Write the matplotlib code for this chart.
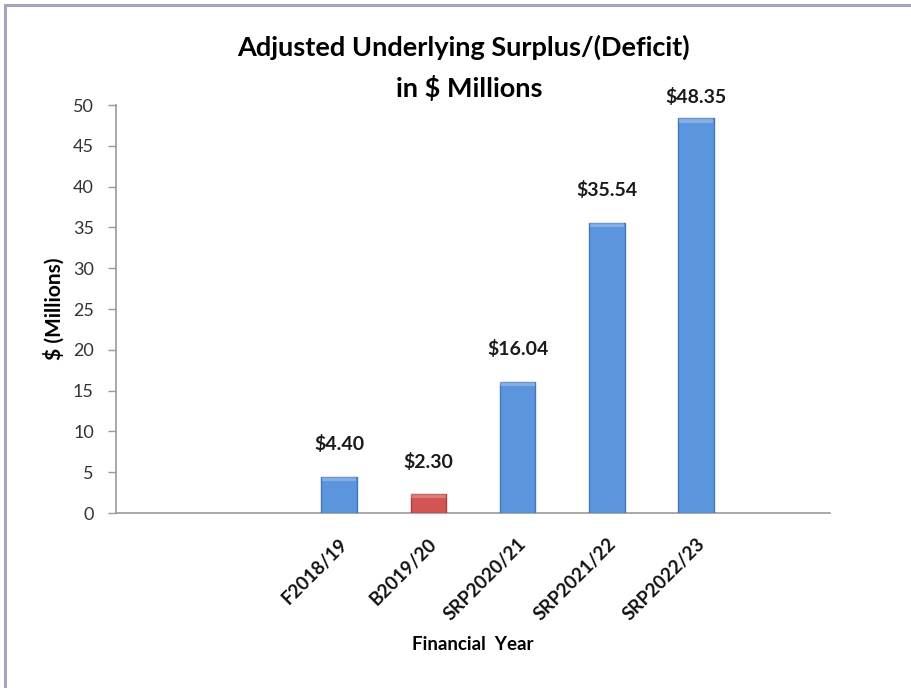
import numpy as np
import matplotlib.pyplot as plt
from matplotlib.lines import Line2D

# data
years = ["F2018/19", "B2019/20", "SRP2020/21", "SRP2021/22", "SRP2022/23"]
surplus = [4.40, 2.30, 16.04, 35.54, 48.35]
bar_colors = ["#5A95DD", "#D35450", "#5A95DD", "#5A95DD", "#5A95DD"]
edge_colors = ["#4677B8", "#A9403D", "#4677B8", "#4677B8", "#4677B8"]
yticks = np.arange(0, 51, 5)

plt.rcParams['font.family'] = ['Lato', 'DejaVu Sans']

fig = plt.figure(figsize=(9.11, 6.88), dpi=100)

# outer chart frame: only top and left edges are inside the picture
frame = dict(transform=fig.transFigure, color="#A8A4BC", linewidth=2.2)
fig.lines.append(Line2D([5 / 911, 1.0], [1 - 5 / 688, 1 - 5 / 688], **frame))
fig.lines.append(Line2D([5 / 911, 5 / 911], [0.0, 1 - 5 / 688], **frame))

ax = fig.add_axes([116 / 911, 1 - 513 / 688, 714 / 911, 408 / 688])

# two empty category slots before the bars and one after
x = np.arange(len(years)) + 2
bars = ax.bar(x, surplus, width=0.4, color=bar_colors,
              edgecolor=edge_colors, linewidth=1.0, zorder=3)

# light bevel along the top of each bar
for b in bars:
    ax.bar(b.get_x() + b.get_width() / 2, 0.5, bottom=b.get_height() - 0.5,
           width=b.get_width() * 0.96, color="white", alpha=0.25,
           linewidth=0, zorder=4)

for xi, v in zip(x, surplus):
    ax.text(xi, min(v + 4.0, 51.0), f"${v:.2f}", ha="center", va="center",
            fontsize=14, fontweight="bold", color="#1a1a1a")

ax.set_xlim(-0.5, 7.5)
ax.set_ylim(0, 50)
ax.set_yticks(yticks)
ax.set_yticklabels([str(t) for t in yticks], fontsize=13, color="#333333")
ax.set_xticks(x)
ax.set_xticklabels(years, rotation=45, ha="right", rotation_mode="anchor",
                   fontsize=13.5, fontweight="bold", color="#111111")
ax.tick_params(axis="x", length=0, pad=16)
ax.tick_params(axis="y", length=6, width=1, color="#999999", pad=10)

for s in ["top", "right"]:
    ax.spines[s].set_visible(False)
for s in ["left", "bottom"]:
    ax.spines[s].set_color("#999999")
    ax.spines[s].set_linewidth(1.2)

ax.set_ylabel("$ (Millions)", fontsize=15, fontweight="bold", va="center")
ax.yaxis.set_label_coords(-(116 - 54) / 714, 0.5)
ax.set_xlabel("Financial  Year", fontsize=13.5, fontweight="bold")
ax.xaxis.set_label_coords(0.5, -(645 - 513) / 408)
ax.xaxis.label.set_va("center")

fig.text(463 / 911, 1 - 47 / 688, "Adjusted Underlying Surplus/(Deficit)",
         ha="center", va="center", fontsize=19.5, fontweight="bold")
fig.text(469 / 911, 1 - 88 / 688, "in $ Millions",
         ha="center", va="center", fontsize=19.5, fontweight="bold")

fig.savefig("out.png", dpi=100, facecolor="white")
